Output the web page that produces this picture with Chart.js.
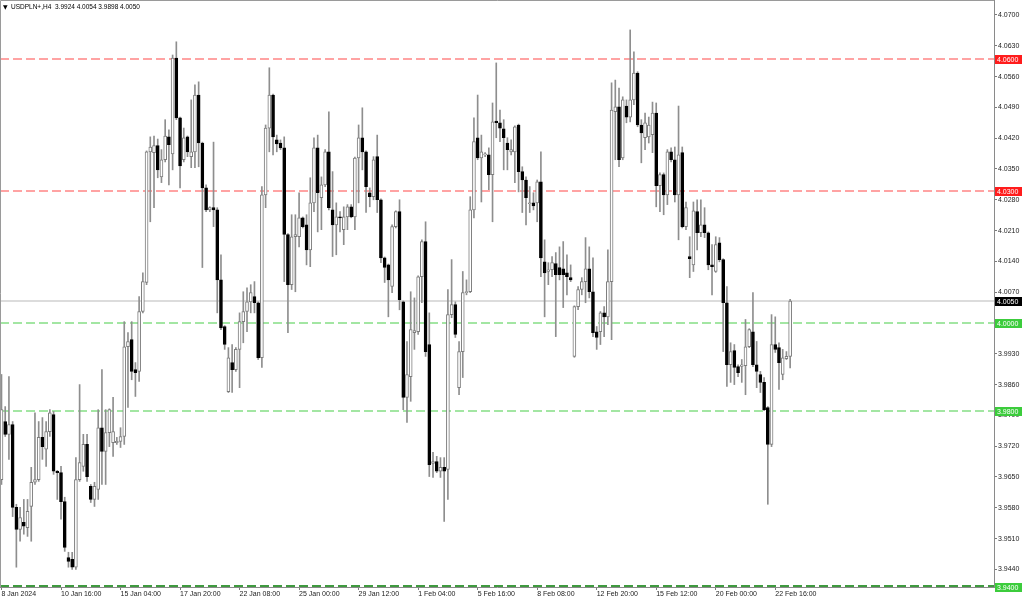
<!DOCTYPE html>
<html>
<head>
<meta charset="utf-8">
<title>USDPLN+,H4</title>
<script src="https://cdn.jsdelivr.net/npm/chart.js@4.4.1/dist/chart.umd.min.js"></script>
<style>
  html, body { margin: 0; padding: 0; background: #ffffff; }
  canvas { display: block; }
</style>
</head>
<body>
<canvas id="price-chart" width="1024" height="599"></canvas>
<script>
const symbol = "USDPLN+,H4";

// H4 candles, 8 Jan 2024 00:00 onwards
const opens = [
  3.9644, 3.9776, 3.9747, 3.9769, 3.9581, 3.9531, 3.9547, 3.9535, 3.9583, 3.9638,
  3.9644, 3.9740, 3.9713, 3.9753, 3.9792, 3.9663, 3.9660, 3.9594, 3.9467, 3.9463,
  3.9445, 3.9644, 3.9674, 3.9724, 3.9629, 3.9599, 3.9622, 3.9762, 3.9708, 3.9751,
  3.9728, 3.9728, 3.9731, 3.9742, 3.9946, 3.9962, 3.9894, 3.9890, 4.0026, 4.0092,
  4.0389, 4.0387, 4.0403, 4.0332, 4.0371, 4.0423, 4.0384, 4.0602, 4.0466, 4.0371,
  4.0423, 4.0378, 4.0389, 4.0518, 4.0409, 4.0307, 4.0257, 4.0262, 4.0257, 4.0098,
  3.9992, 3.9844, 3.9910, 3.9894, 3.9940, 4.0003, 4.0026, 4.0048, 4.0060, 4.0046,
  3.9921, 4.0291, 4.0443, 4.0518, 4.0416, 4.0409, 4.0398, 4.0201, 4.0087, 4.0196,
  4.0196, 4.0239, 4.0223, 4.0166, 4.0273, 4.0398, 4.0285, 4.0314, 4.0389, 4.0257,
  4.0223, 4.0241, 4.0212, 4.0241, 4.0264, 4.0241, 4.0375, 4.0421, 4.0389, 4.0296,
  4.0287, 4.0378, 4.0280, 4.0148, 4.0132, 4.0083, 4.0219, 4.0253, 4.0048, 3.9831,
  3.9878, 3.9978, 3.9980, 4.0105, 4.0185, 3.9951, 3.9681, 3.9685, 3.9663, 3.9672,
  3.9667, 4.0019, 4.0042, 3.9853, 3.9935, 4.0069, 4.0071, 4.0257, 4.0421, 4.0375,
  4.0382, 4.0382, 4.0337, 4.0459, 4.0455, 4.0441, 4.0409, 4.0389, 4.0389, 4.0450,
  4.0344, 4.0325, 4.0271, 4.0273, 4.0273, 4.0321, 4.0139, 4.0117, 4.0121, 4.0135,
  4.0126, 4.0123, 4.0114, 4.0103, 3.9924, 4.0037, 4.0076, 4.0094, 4.0123, 4.0071,
  3.9980, 3.9980, 4.0023, 4.0014, 4.0094, 4.0480, 4.0491, 4.0375, 4.0493, 4.0468,
  4.0507, 4.0568, 4.0450, 4.0421, 4.0423, 4.0428, 4.0477, 4.0312, 4.0337, 4.0291,
  4.0389, 4.0371, 4.0291, 4.0387, 4.0219, 4.0151, 4.0132, 4.0253, 4.0205, 4.0223,
  4.0205, 4.0132, 4.0117, 4.0182, 4.0144, 4.0046, 3.9905, 3.9937, 3.9901, 3.9901,
  3.9903, 3.9946, 3.9980, 3.9905, 3.9883, 3.9865, 3.9808, 3.9724, 3.9951, 3.9944,
  3.9883, 3.9919, 3.9924
];
const highs = [
  3.9883, 3.9810, 3.9878, 3.9776, 3.9588, 3.9581, 3.9599, 3.9599, 3.9672, 3.9796,
  3.9776, 3.9785, 3.9776, 3.9803, 3.9799, 3.9665, 3.9674, 3.9604, 3.9479, 3.9479,
  3.9694, 3.9860, 3.9747, 3.9747, 3.9633, 3.9638, 3.9803, 3.9894, 3.9803, 3.9805,
  3.9831, 3.9740, 3.9762, 4.0003, 3.9978, 4.0003, 3.9910, 4.0060, 4.0114, 4.0391,
  4.0423, 4.0425, 4.0418, 4.0394, 4.0462, 4.0439, 4.0609, 4.0639, 4.0468, 4.0443,
  4.0425, 4.0507, 4.0541, 4.0548, 4.0411, 4.0314, 4.0264, 4.0411, 4.0262, 4.0155,
  3.9994, 3.9944, 3.9951, 3.9944, 4.0023, 4.0071, 4.0080, 4.0087, 4.0094, 4.0048,
  4.0310, 4.0450, 4.0580, 4.0520, 4.0427, 4.0416, 4.0423, 4.0203, 4.0246, 4.0246,
  4.0296, 4.0241, 4.0246, 4.0330, 4.0421, 4.0427, 4.0332, 4.0394, 4.0480, 4.0344,
  4.0273, 4.0253, 4.0264, 4.0269, 4.0269, 4.0377, 4.0450, 4.0489, 4.0391, 4.0307,
  4.0378, 4.0427, 4.0282, 4.0150, 4.0134, 4.0223, 4.0255, 4.0280, 4.0050, 3.9958,
  4.0071, 4.0057, 4.0107, 4.0189, 4.0230, 4.0023, 3.9706, 3.9697, 3.9694, 3.9694,
  4.0076, 4.0144, 4.0048, 3.9958, 4.0117, 4.0098, 4.0287, 4.0466, 4.0518, 4.0427,
  4.0387, 4.0398, 4.0500, 4.0591, 4.0484, 4.0462, 4.0421, 4.0416, 4.0448, 4.0452,
  4.0355, 4.0332, 4.0310, 4.0296, 4.0325, 4.0389, 4.0189, 4.0137, 4.0151, 4.0160,
  4.0173, 4.0185, 4.0155, 4.0132, 4.0039, 4.0083, 4.0103, 4.0194, 4.0173, 4.0148,
  3.9992, 4.0026, 4.0037, 4.0166, 4.0546, 4.0552, 4.0534, 4.0514, 4.0507, 4.0666,
  4.0616, 4.0571, 4.0462, 4.0477, 4.0468, 4.0502, 4.0500, 4.0341, 4.0341, 4.0394,
  4.0398, 4.0400, 4.0493, 4.0400, 4.0275, 4.0196, 4.0275, 4.0280, 4.0280, 4.0262,
  4.0207, 4.0178, 4.0196, 4.0194, 4.0146, 4.0083, 3.9955, 3.9951, 3.9905, 3.9917,
  4.0008, 3.9987, 4.0069, 3.9958, 3.9890, 3.9876, 3.9810, 4.0019, 4.0014, 3.9955,
  3.9940, 3.9935, 4.0054
];
const lows = [
  3.9633, 3.9742, 3.9690, 3.9560, 3.9445, 3.9504, 3.9520, 3.9515, 3.9504, 3.9633,
  3.9640, 3.9690, 3.9674, 3.9742, 3.9656, 3.9599, 3.9554, 3.9481, 3.9445, 3.9440,
  3.9440, 3.9640, 3.9663, 3.9640, 3.9592, 3.9583, 3.9599, 3.9633, 3.9633, 3.9719,
  3.9697, 3.9724, 3.9717, 3.9724, 3.9808, 3.9871, 3.9833, 3.9867, 4.0023, 4.0087,
  4.0230, 4.0262, 4.0330, 4.0319, 4.0366, 4.0314, 4.0348, 4.0462, 4.0307, 4.0366,
  4.0378, 4.0353, 4.0353, 4.0355, 4.0126, 4.0253, 4.0253, 4.0219, 4.0023, 3.9985,
  3.9940, 3.9842, 3.9842, 3.9890, 3.9853, 3.9955, 3.9980, 4.0023, 4.0023, 3.9917,
  3.9899, 4.0262, 4.0389, 4.0382, 4.0389, 4.0394, 4.0094, 3.9978, 4.0076, 4.0071,
  4.0173, 4.0216, 4.0132, 4.0128, 4.0253, 4.0207, 4.0212, 4.0310, 4.0257, 4.0151,
  4.0155, 4.0207, 4.0178, 4.0212, 4.0239, 4.0212, 4.0273, 4.0348, 4.0251, 4.0264,
  4.0280, 4.0251, 4.0137, 4.0092, 4.0014, 4.0069, 4.0216, 4.0030, 3.9803, 3.9774,
  3.9822, 3.9940, 3.9974, 4.0046, 3.9924, 3.9651, 3.9649, 3.9660, 3.9649, 3.9549,
  3.9599, 4.0012, 3.9967, 3.9837, 3.9876, 4.0064, 4.0069, 4.0239, 4.0371, 4.0275,
  4.0378, 4.0303, 4.0230, 4.0421, 4.0412, 4.0348, 4.0348, 4.0382, 4.0319, 4.0298,
  4.0251, 4.0223, 4.0251, 4.0257, 4.0230, 4.0105, 4.0014, 4.0087, 4.0105, 3.9969,
  4.0098, 4.0035, 4.0064, 4.0094, 3.9922, 4.0030, 4.0064, 4.0046, 4.0057, 3.9969,
  3.9940, 3.9951, 3.9969, 3.9996, 3.9962, 4.0371, 4.0355, 4.0371, 4.0455, 4.0457,
  4.0496, 4.0446, 4.0364, 4.0394, 4.0409, 4.0387, 4.0264, 4.0253, 4.0246, 4.0269,
  4.0366, 4.0275, 4.0189, 4.0216, 4.0212, 4.0103, 4.0117, 4.0166, 4.0196, 4.0194,
  4.0121, 4.0064, 4.0115, 4.0139, 3.9935, 3.9856, 3.9865, 3.9860, 3.9878, 3.9865,
  3.9837, 3.9944, 3.9901, 3.9853, 3.9842, 3.9801, 3.9588, 3.9719, 3.9933, 3.9849,
  3.9871, 3.9917, 3.9898
];
const closes = [
  3.9803, 3.9747, 3.9769, 3.9581, 3.9531, 3.9558, 3.9538, 3.9572, 3.9638, 3.9644,
  3.9740, 3.9719, 3.9753, 3.9796, 3.9663, 3.9660, 3.9594, 3.9490, 3.9458, 3.9445,
  3.9644, 3.9683, 3.9724, 3.9651, 3.9599, 3.9629, 3.9762, 3.9708, 3.9751, 3.9803,
  3.9753, 3.9731, 3.9742, 3.9946, 3.9958, 3.9890, 3.9887, 4.0026, 4.0094, 4.0389,
  4.0400, 4.0403, 4.0348, 4.0371, 4.0425, 4.0405, 4.0602, 4.0466, 4.0357, 4.0421,
  4.0389, 4.0389, 4.0518, 4.0409, 4.0307, 4.0257, 4.0262, 4.0257, 4.0098, 3.9989,
  3.9951, 3.9921, 3.9894, 3.9940, 4.0003, 4.0026, 4.0048, 4.0069, 4.0046, 3.9921,
  4.0291, 4.0443, 4.0518, 4.0423, 4.0407, 4.0398, 4.0201, 4.0087, 4.0196, 4.0201,
  4.0239, 4.0219, 4.0166, 4.0273, 4.0398, 4.0296, 4.0314, 4.0389, 4.0262, 4.0223,
  4.0241, 4.0239, 4.0241, 4.0264, 4.0241, 4.0375, 4.0421, 4.0389, 4.0310, 4.0287,
  4.0371, 4.0280, 4.0148, 4.0126, 4.0098, 4.0219, 4.0253, 4.0053, 3.9831, 3.9883,
  3.9985, 3.9983, 4.0105, 4.0185, 3.9935, 3.9678, 3.9685, 3.9663, 3.9672, 3.9663,
  4.0019, 4.0042, 3.9974, 3.9935, 4.0069, 4.0071, 4.0257, 4.0412, 4.0375, 4.0389,
  4.0383, 4.0337, 4.0457, 4.0455, 4.0443, 4.0421, 4.0394, 4.0394, 4.0446, 4.0344,
  4.0325, 4.0285, 4.0273, 4.0266, 4.0321, 4.0148, 4.0114, 4.0121, 4.0137, 4.0110,
  4.0110, 4.0110, 4.0105, 4.0098, 4.0037, 4.0076, 4.0094, 4.0123, 4.0071, 3.9978,
  3.9967, 4.0023, 4.0014, 4.0094, 4.0484, 4.0491, 4.0371, 4.0507, 4.0468, 4.0507,
  4.0568, 4.0450, 4.0432, 4.0455, 4.0450, 4.0477, 4.0312, 4.0337, 4.0291, 4.0389,
  4.0371, 4.0291, 4.0382, 4.0219, 4.0262, 4.0146, 4.0255, 4.0205, 4.0223, 4.0205,
  4.0132, 4.0128, 4.0178, 4.0144, 4.0046, 3.9905, 3.9935, 3.9899, 3.9887, 3.9905,
  3.9946, 3.9985, 3.9905, 3.9890, 3.9865, 3.9803, 3.9724, 3.9951, 3.9940, 3.9910,
  3.9921, 3.9924, 4.0050
];

// time axis labels, one every 16 bars
const timeLabels = [
  "8 Jan 2024", "10 Jan 16:00", "15 Jan 04:00", "17 Jan 20:00", "22 Jan 08:00",
  "25 Jan 00:00", "29 Jan 12:00", "1 Feb 04:00", "5 Feb 16:00", "8 Feb 08:00",
  "12 Feb 20:00", "15 Feb 12:00", "20 Feb 00:00", "22 Feb 16:00"
];
const timeLabelBars = [0, 16, 32, 48, 64, 80, 96, 112, 128, 144, 160, 176, 192, 208];

// price axis
const priceTicks = [
  4.0700, 4.0630, 4.0560, 4.0490, 4.0420, 4.0350, 4.0280, 4.0210, 4.0140, 4.0070,
  4.0000, 3.9930, 3.9860, 3.9790, 3.9720, 3.9650, 3.9580, 3.9510, 3.9440
];
const resistLevels = [4.0600, 4.0300];
const supportLevels = [4.0000, 3.9800];
const floorLevel = 3.9400;

const tickFont = { family: "Liberation Sans", size: 7 };
const isUp = (i) => closes[i] >= opens[i];
const last = closes.length - 1;

function drawLevel(chart, value, color, dash, width, shift) {
    const { ctx, chartArea } = chart;
    const py = Math.round(chart.scales.y.getPixelForValue(value)) + shift;
    ctx.save();
    ctx.strokeStyle = color;
    ctx.lineWidth = width;
    ctx.setLineDash(dash);
    ctx.beginPath();
    ctx.moveTo(chartArea.left, py);
    ctx.lineTo(chartArea.right, py);
    ctx.stroke();
    ctx.restore();
}

// horizontal levels, level tags, frame and the header line
const overlay = {
    id: "overlay",
    beforeDatasetsDraw(chart) {
        drawLevel(chart, closes[last], "#dcdcdc", [], 2, 0);
        resistLevels.forEach((v) => drawLevel(chart, v, "#ffa3a3", [9, 4], 2, 0));
        supportLevels.forEach((v) => drawLevel(chart, v, "#a3e6a3", [9, 4], 2, 0));
    },
    afterDraw(chart) {
        const { ctx, chartArea } = chart;
        const y = chart.scales.y;

        drawLevel(chart, floorLevel, "#3f9a3f", [9, 4], 2, -1);

        // frame
        ctx.save();
        ctx.strokeStyle = "#9a9a9a";
        ctx.lineWidth = 1;
        ctx.beginPath();
        ctx.moveTo(chartArea.left + 0.5, chartArea.bottom);
        ctx.lineTo(chartArea.left + 0.5, chartArea.top + 0.5);
        ctx.lineTo(chartArea.right, chartArea.top + 0.5);
        ctx.stroke();

        const tag = (value, bg, fg) => {
            const py = Math.round(y.getPixelForValue(value));
            const top = Math.min(py - 4, chart.height - 9);
            ctx.fillStyle = bg;
            ctx.fillRect(chartArea.right + 1, top, 27, 9);
            ctx.fillStyle = fg;
            ctx.font = tickFont.size + "px " + tickFont.family;
            ctx.textAlign = "left";
            ctx.textBaseline = "middle";
            ctx.fillText(value.toFixed(4), chartArea.right + 3, top + 5);
        };
        resistLevels.forEach((v) => tag(v, "#ff1c1c", "#ffffff"));
        supportLevels.forEach((v) => tag(v, "#3ccc3c", "#ffffff"));
        tag(floorLevel, "#3ccc3c", "#ffffff");
        tag(closes[last], "#000000", "#ffffff");

        // header
        ctx.fillStyle = "#000000";
        ctx.font = "6px DejaVu Sans";
        ctx.textBaseline = "middle";
        ctx.fillText("\u25BC", 3, 7);
        ctx.font = "6.5px " + tickFont.family;
        ctx.fillText(symbol, 11, 7);
        const ohlc = [opens[last], highs[last], lows[last], closes[last]]
            .map((v) => v.toFixed(4))
            .join(" ");
        ctx.fillText(ohlc, 55, 7);
        ctx.restore();
    },
};

const ctx = document.getElementById("price-chart").getContext("2d");
const chart = new Chart(ctx, {
    type: "bar",
    data: {
        datasets: [
            {
                label: "body",
                data: opens.map((o, i) => ({
                    x: i,
                    y: [Math.min(o, closes[i]), Math.max(o, closes[i])],
                })),
                backgroundColor: (c) => (isUp(c.dataIndex) ? "#ffffff" : "#000000"),
                borderColor: (c) => (isUp(c.dataIndex) ? "#7c7c7c" : "#000000"),
                borderWidth: 1,
                borderSkipped: false,
                barThickness: 3,
                minBarLength: 1,
                grouped: false,
                order: 0,
            },
            {
                label: "wick",
                data: lows.map((l, i) => ({ x: i, y: [l, highs[i]] })),
                backgroundColor: "#8e8e8e",
                borderWidth: 0,
                barThickness: 1,
                grouped: false,
                order: 1,
            },
        ],
    },
    options: {
        responsive: false,
        animation: false,
        layout: { padding: 0, autoPadding: false },
        scales: {
            x: {
                type: "linear",
                min: -0.4,
                max: 266.8,
                offset: false,
                grid: {
                    offset: false,
                    drawOnChartArea: false,
                    tickLength: 3,
                    color: "#7a7a7a",
                },
                border: { color: "#8a8a8a" },
                afterBuildTicks: (scale) => {
                    scale.ticks = timeLabelBars.map((v) => ({ value: v }));
                },
                afterFit: (scale) => {
                    scale.height = 12;
                    scale.paddingLeft = 0;
                    scale.paddingRight = 0;
                },
                ticks: {
                    autoSkip: false,
                    maxRotation: 0,
                    align: "start",
                    padding: 0,
                    color: "#222222",
                    font: tickFont,
                    callback: (v) => timeLabels[timeLabelBars.indexOf(v)],
                },
            },
            y: {
                position: "right",
                min: 3.94,
                max: 4.0734,
                grid: {
                    drawOnChartArea: false,
                    tickLength: 3,
                    color: "#7a7a7a",
                },
                border: { color: "#8a8a8a" },
                afterBuildTicks: (scale) => {
                    scale.ticks = priceTicks.map((v) => ({ value: v }));
                },
                afterFit: (scale) => {
                    scale.width = 30;
                    scale.paddingTop = 0;
                    scale.paddingBottom = 0;
                },
                ticks: {
                    autoSkip: false,
                    padding: 1,
                    color: "#222222",
                    font: tickFont,
                    callback: (v) => v.toFixed(4),
                },
            },
        },
        plugins: {
            legend: { display: false },
            tooltip: { enabled: false },
        },
    },
    plugins: [overlay],
});
</script>
</body>
</html>
